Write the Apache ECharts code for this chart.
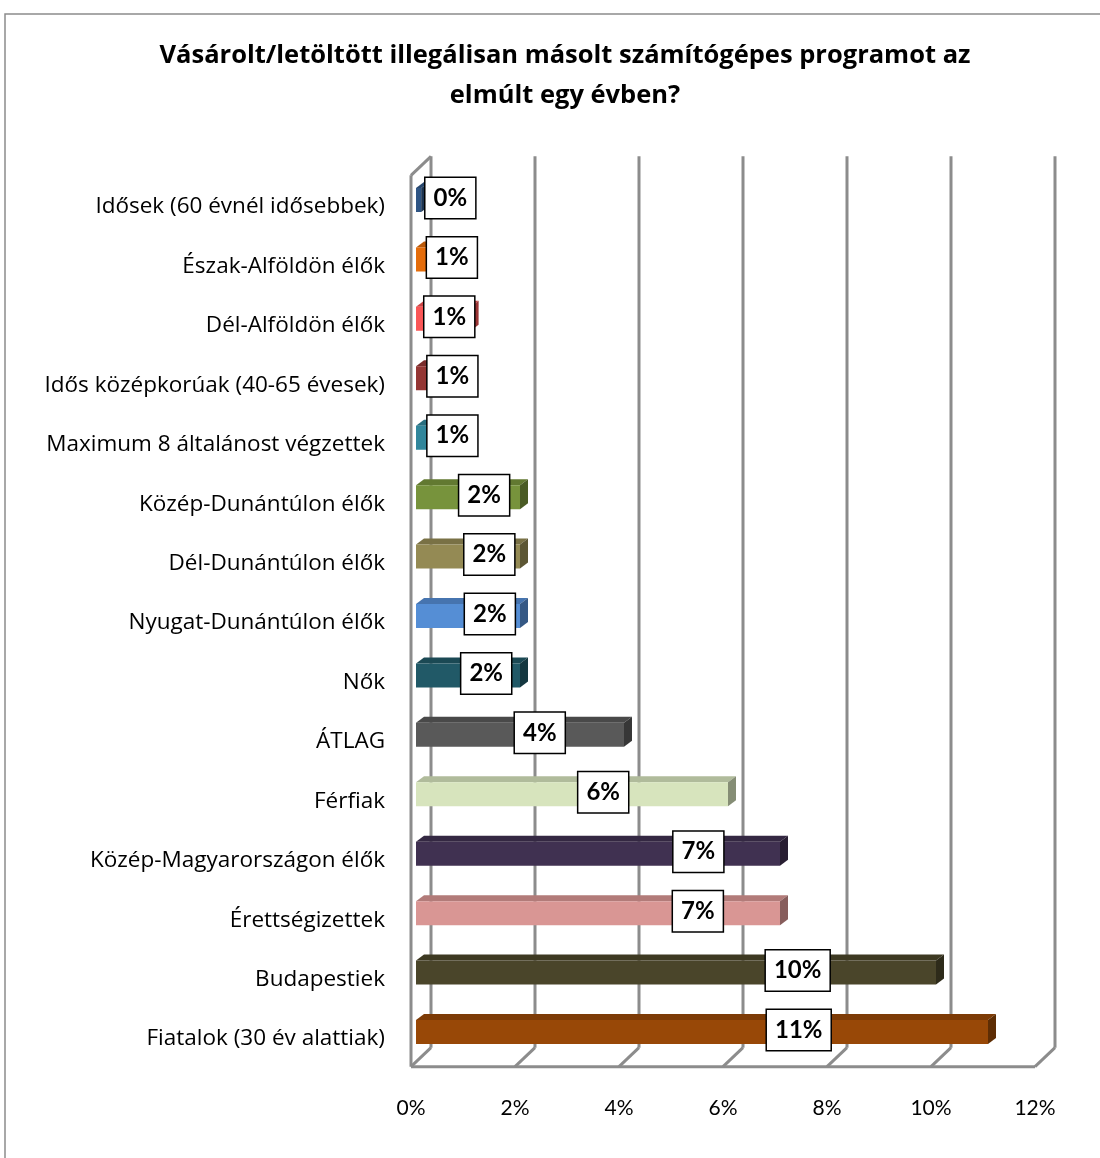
<!DOCTYPE html>
<html>
<head>
<meta charset="utf-8">
<title>Illegális szoftver</title>
<script src="https://cdn.jsdelivr.net/npm/echarts@6/dist/echarts.min.js"></script>
<style>
  html, body { margin: 0; padding: 0; background: #fff; }
  #chart { width: 1100px; height: 1158px; }
</style>
</head>
<body>
<div id="chart"></div>
<script>
// adatok (felülről lefelé)
const categories = [
  'Idősek (60 évnél idősebbek)',
  'Észak-Alföldön élők',
  'Dél-Alföldön élők',
  'Idős középkorúak (40-65 évesek)',
  'Maximum 8 általánost végzettek',
  'Közép-Dunántúlon élők',
  'Dél-Dunántúlon élők',
  'Nyugat-Dunántúlon élők',
  'Nők',
  'ÁTLAG',
  'Férfiak',
  'Közép-Magyarországon élők',
  'Érettségizettek',
  'Budapestiek',
  'Fiatalok (30 év alattiak)'
]
const values = [0.1, 0.7, 1.05, 0.9, 0.9, 2.0, 2.0, 2.0, 2.0, 4.0, 6.0, 7.0, 7.0, 10.0, 11.0]
// címkék helye (érték-tengelyen, ahogy az eredetin elhelyezték)
const labelAt = [0.66, 0.69, 0.64, 0.7, 0.7, 1.31, 1.41, 1.42, 1.35, 2.38, 3.6, 5.43, 5.42, 7.34, 7.36]
const ticks = [0, 2, 4, 6, 8, 10, 12]

const barColors = [
  '#2f5584', '#e46c0a', '#fa5656', '#943634', '#31869b',
  '#77933c', '#948a54', '#558ed5', '#215967', '#595959',
  '#d7e4bd', '#403151', '#d99694', '#4a452a', '#984807'
]

const font = 'Lato, "Open Sans", sans-serif'
const wideFont = '"Open Sans", Lato, sans-serif'
const DX = 8, DY = 6       // oszlop mélysége
const BACK = [15, -14]     // hátsó fal eltolása
const FRONT = [-5, 5]      // első sík eltolása

// szín sötétítése
function shade(hex, k) {
  const n = parseInt(hex.slice(1), 16)
  const r = Math.round(((n >> 16) & 255) * k)
  const g = Math.round(((n >> 8) & 255) * k)
  const b = Math.round((n & 255) * k)
  return 'rgb(' + r + ',' + g + ',' + b + ')'
}

const chart = echarts.init(document.getElementById('chart'))

const renderWall = (params, api) => {
  const v = api.value(0)
  const cs = params.coordSys
  const x = api.coord([v, 0])[0]
  const top = cs.y, bot = cs.y + cs.height
  const lineStyle = { stroke: '#8c8c8c', lineWidth: 3 }
  const seg = (a, b) => ({ type: 'line', shape: { x1: a[0], y1: a[1], x2: b[0], y2: b[1] }, style: lineStyle })
  const children = [
    seg([x + BACK[0], top + BACK[1]], [x + BACK[0], bot + BACK[1]]),
    seg([x + BACK[0], bot + BACK[1]], [x + FRONT[0], bot + FRONT[1]])
  ]
  if (v === 0) {
    children.push(seg([x + FRONT[0], top + FRONT[1]], [x + FRONT[0], bot + FRONT[1]]))
    children.push(seg([x + FRONT[0], top + FRONT[1]], [x + BACK[0], top + BACK[1]]))
    children.push(seg([x + FRONT[0], bot + FRONT[1]], [cs.x + cs.width + FRONT[0], bot + FRONT[1]]))
  }
  return { type: 'group', children }
}

const renderBar = (params, api) => {
  const val = api.value(0)
  const cat = api.value(1)
  const s = api.coord([0, cat])
  const e = api.coord([val, cat])
  const h = 24
  const x0 = s[0], x1 = e[0]
  const yT = s[1] - h / 2, yB = s[1] + h / 2
  const c = barColors[params.dataIndex]
  return {
    type: 'group',
    children: [
      { type: 'polygon', shape: { points: [[x0, yT], [x1, yT], [x1 + DX, yT - DY], [x0 + DX, yT - DY]] }, style: { fill: shade(c, 0.82) } },
      { type: 'rect', shape: { x: x0, y: yT, width: x1 - x0, height: h }, style: { fill: c } },
      { type: 'polygon', shape: { points: [[x1, yT], [x1 + DX, yT - DY], [x1 + DX, yB - DY], [x1, yB]] }, style: { fill: shade(c, 0.62) } }
    ]
  }
}

const renderLabel = (params, api) => {
  const p = api.coord([api.value(0), api.value(1)])
  return {
    type: 'text',
    x: p[0], y: p[1] - 2,
    style: {
      text: Math.round(values[params.dataIndex]) + '%',
      align: 'center', verticalAlign: 'middle',
      font: 'bold 24px ' + font,
      fill: '#000',
      backgroundColor: '#fff',
      borderColor: '#000', borderWidth: 1.5,
      padding: [8, 8, 8, 8],
      lineHeight: 24
    }
  }
}

const option = {
  backgroundColor: '#fff',
  animation: false,
  title: {
    text: 'Vásárolt/letöltött illegálisan másolt számítógépes programot az\nelmúlt egy évben?',
    left: 560, top: 31, textAlign: 'center',
    textStyle: { fontFamily: wideFont, fontWeight: 'bold', fontSize: 25.5, lineHeight: 40, color: '#000' }
  },
  graphic: [{
    type: 'rect', shape: { x: 5, y: 14, width: 1200, height: 1200 },
    style: { fill: 'none', stroke: '#8c8c8c', lineWidth: 1.5 }, silent: true
  }],
  grid: { left: 416, width: 624, top: 170.3, height: 891.4 },
  xAxis: {
    type: 'value', min: 0, max: 12, interval: 2,
    axisLine: { show: false }, axisTick: { show: false }, splitLine: { show: false },
    axisLabel: { formatter: '{value}%', fontFamily: font, fontSize: 21, color: '#000', margin: 36, padding: [0, 10, 0, 0] }
  },
  yAxis: {
    type: 'category', data: categories, inverse: true,
    axisLine: { show: false }, axisTick: { show: false },
    axisLabel: {
      margin: 31,
      formatter: v => '{c|' + v + '}',
      rich: { c: { fontFamily: wideFont, fontSize: 22.5, color: '#000', padding: [14, 0, 0, 0] } }
    }
  },
  series: [
    { type: 'custom', name: 'wall', data: ticks.map(t => [t]), encode: { x: 0 }, renderItem: renderWall, z: 1, silent: true },
    { type: 'custom', name: 'bars', data: values.map((v, i) => [v, i]), encode: { x: 0, y: 1 }, renderItem: renderBar, z: 2 },
    { type: 'custom', name: 'labels', data: labelAt.map((v, i) => [v, i]), encode: { x: 0, y: 1 }, renderItem: renderLabel, z: 3 }
  ]
}

chart.setOption(option)
</script>
</body>
</html>
